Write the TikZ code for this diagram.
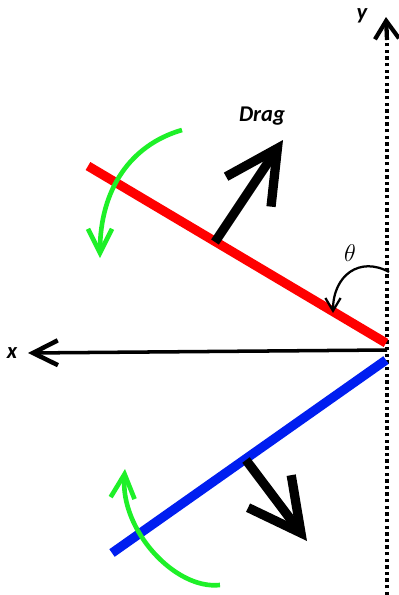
\documentclass[tikz,border=0pt]{standalone}
\usepackage{fontspec}
\newfontfamily\lblfont{Carlito}
\definecolor{plred}{RGB}{255,0,0}
\definecolor{plblue}{RGB}{0,30,240}
\definecolor{plgreen}{RGB}{30,240,40}
\usetikzlibrary{arrows.meta}

\begin{document}
\begin{tikzpicture}[x=0.025cm,y=-0.025cm,
  plate/.style={line width=6.6pt},
  force/.style={line width=6.6pt,-{Straight Barb[length=1.3cm,width=1.35cm]}},
  spin/.style={plgreen,line width=3.3pt,-{Straight Barb[length=0.6cm,width=0.6cm]}},
  axlabel/.style={font=\lblfont\bfseries\itshape\fontsize{16}{16}\selectfont}]
  \useasboundingbox (0,0) rectangle (399,595);
  % axes
  \coordinate (o) at (387,350);
  \coordinate (ybot) at (387,595);
  \coordinate (ytop) at (386,17);
  \coordinate (xtip) at (28,353);
  \draw[line width=2.4pt,dash pattern=on 2.4pt off 2.3pt] (ybot)--(387,30);
  \draw[line width=3pt,-{Straight Barb[length=0.45cm,width=0.6cm]}] (387,40)--(ytop);
  \draw[line width=2.5pt,-{Straight Barb[length=0.62cm,width=0.62cm,line width=3.2pt]}] (o)--(xtip);
  \node[axlabel] (ylbl) at (362,16) {y};
  \node[axlabel] (xlbl) at (12,353) {x};
  % upper plate
  \coordinate (ra) at (88,166);
  \coordinate (rb) at (386,343);
  \coordinate (rmid) at (215,242);
  \coordinate (dtip) at (283,140);
  \draw[plate,plred] (ra)--(rb);
  \draw[force] (rmid)--(dtip);
  \node[axlabel] (drag) at (262,116) {Drag};
  \coordinate (ga) at (182,130);
  \coordinate (gb) at (100,258);
  \draw[spin] (ga) .. controls (130,145) and (100,190) .. (gb);
  % angle
  \coordinate (ta) at (389,272);
  \coordinate (tb) at (333,313);
  \draw[line width=1.6pt,-{Straight Barb[length=0.32cm,width=0.38cm]}] (ta) .. controls (360,256) and (333,275) .. (tb);
  \node[font=\fontsize{18}{18}\selectfont] (theta) at (350,253) {$\theta$};
  % lower plate
  \coordinate (ba) at (112,553);
  \coordinate (bb) at (386,360);
  \coordinate (bmid) at (246,460);
  \coordinate (btip) at (307,541);
  \draw[plate,plblue] (ba)--(bb);
  \draw[force] (bmid)--(btip);
  \coordinate (gc) at (220,585);
  \coordinate (gd) at (125,469);
  \draw[spin] (gc) .. controls (175,590) and (120,530) .. (gd);
\end{tikzpicture}
\end{document}
